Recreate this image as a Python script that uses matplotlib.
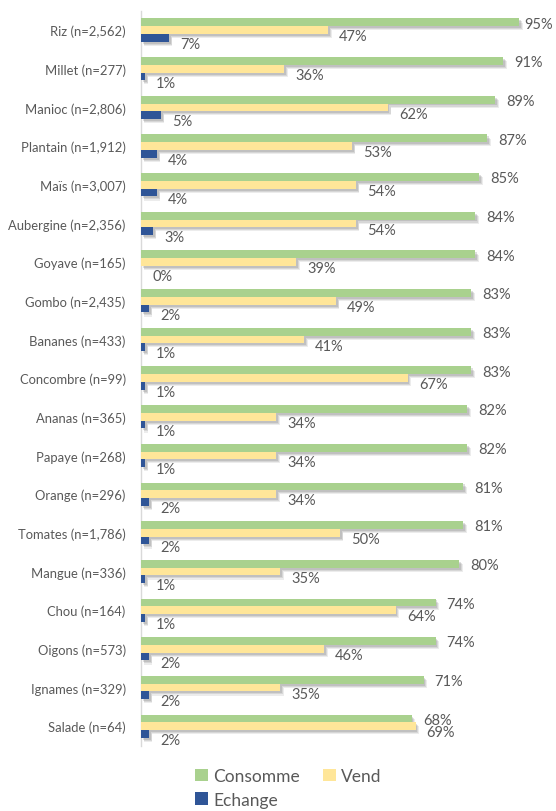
import matplotlib
matplotlib.use("Agg")
import matplotlib.pyplot as plt
import matplotlib.patheffects as pe
import numpy as np

plt.rcParams["font.family"] = ["Lato", "DejaVu Sans"]

CATEGORIES = [
    "Riz (n=2,562)", "Millet (n=277)", "Manioc (n=2,806)", "Plantain (n=1,912)",
    "Maïs (n=3,007)", "Aubergine (n=2,356)", "Goyave (n=165)", "Gombo (n=2,435)",
    "Bananes (n=433)", "Concombre (n=99)", "Ananas (n=365)", "Papaye (n=268)",
    "Orange (n=296)", "Tomates (n=1,786)", "Mangue (n=336)", "Chou (n=164)",
    "Oigons (n=573)", "Ignames (n=329)", "Salade (n=64)",
]
CONSOMME = [95, 91, 89, 87, 85, 84, 84, 83, 83, 83, 82, 82, 81, 81, 80, 74, 74, 71, 68]
VEND = [47, 36, 62, 53, 54, 54, 39, 49, 41, 67, 34, 34, 34, 50, 35, 64, 46, 35, 69]
ECHANGE = [7, 1, 5, 4, 4, 3, 0, 2, 1, 1, 1, 1, 2, 2, 1, 1, 2, 2, 2]

SERIES = [
    ("Consomme", CONSOMME, "#A9D18E"),
    ("Vend", VEND, "#FFE699"),
    ("Echange", ECHANGE, "#2F5597"),
]
TEXT_COLOR = "#595959"

fig = plt.figure(figsize=(5.56, 8.12), dpi=100)
ax = fig.add_axes([141 / 556, 1 - 746.5 / 812, 398 / 556, (746.5 - 11.7) / 812])

y = np.arange(len(CATEGORIES))
h = 0.2
# soft-ish shadow: a few stacked offsets
shadow = [pe.SimplePatchShadow(offset=(2.5, -3), shadow_rgbFace="#808080", alpha=0.15),
          pe.SimplePatchShadow(offset=(2, -2.2), shadow_rgbFace="#808080", alpha=0.2),
          pe.SimplePatchShadow(offset=(1.2, -1.4), shadow_rgbFace="#808080", alpha=0.25),
          pe.Normal()]

ax.set_xlim(0, 100)
ax.set_ylim(len(CATEGORIES) - 0.5, -0.5)

handles = {}
# label offsets in points (x, y)
offsets = {"Consomme": (8, -1), "Vend": (8, -4.5), "Echange": (8, -4.5)}
fig.canvas.draw()
renderer = fig.canvas.get_renderer()
fig_w = fig.bbox.width
for i, (name, vals, color) in enumerate(SERIES):
    pos = y + (i - 1) * h
    bars = ax.barh(pos, vals, height=h, color=color, label=name, zorder=3)
    for b in bars:
        b.set_path_effects(shadow)
    handles[name] = bars
    dx, dy = offsets[name]
    for p, v in zip(pos, vals):
        t = ax.annotate(f"{v}%", (v, p), xytext=(dx, dy), textcoords="offset points",
                        ha="left", va="center", fontsize=10.5, color=TEXT_COLOR,
                        annotation_clip=False, zorder=4)
        # keep labels inside the figure, like the original (pulled in at the edge)
        bb = t.get_window_extent(renderer)
        over = bb.x1 - (fig_w - 3)
        if over > 0:
            t.set_position((dx - over * 72 / fig.dpi, dy))

ax.set_yticks(y)
ax.set_yticklabels(CATEGORIES, fontsize=9.4, color=TEXT_COLOR)
ax.tick_params(axis="y", length=0, pad=11)
ax.set_xticks([])
for side in ["top", "right", "bottom"]:
    ax.spines[side].set_visible(False)
ax.spines["left"].set_color("#d9d9d9")
ax.spines["left"].set_linewidth(1)

leg = fig.legend([handles["Consomme"], handles["Echange"], handles["Vend"]],
                 ["Consomme", "Echange", "Vend"], ncol=2, frameon=False,
                 loc="upper left", bbox_to_anchor=(195 / 556, 1 - 769 / 812),
                 fontsize=12.5, handlelength=0.75, handleheight=0.75,
                 handletextpad=0.3, columnspacing=1.3, labelspacing=0.45,
                 borderaxespad=0, borderpad=0)
for t in leg.get_texts():
    t.set_color(TEXT_COLOR)
for hnd in leg.legend_handles:
    hnd.set_path_effects([])

fig.savefig("out.png", dpi=100)
